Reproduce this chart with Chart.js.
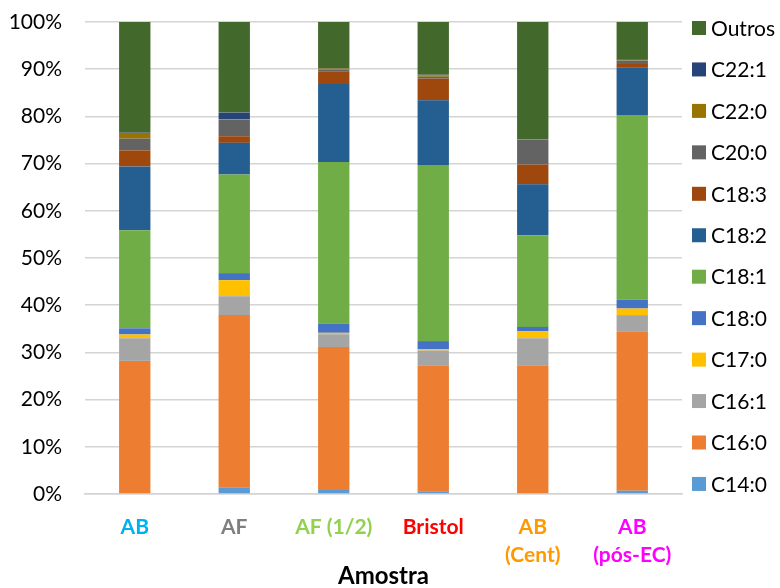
<!DOCTYPE html>
<html>
<head>
<meta charset="utf-8">
<script src="https://cdn.jsdelivr.net/npm/chart.js@4/dist/chart.umd.min.js"></script>
<style>
  html, body { margin: 0; padding: 0; background: #fff; }
  #wrap { width: 780px; height: 588px; position: relative; }
</style>
</head>
<body>
<div id="wrap"><canvas id="c" width="780" height="588"></canvas></div>
<script>
// Samples (x axis) and their label colours
const categories = ["AB", "AF", "AF (1/2)", "Bristol", ["AB", "(Cent)"], ["AB", "(pós-EC)"]];
const categoryColors = ["#00B0F0", "#7F7F7F", "#92D050", "#FF0000", "#FF9900", "#FF00FF"];

// Fatty acid composition, % of total
const c14_0 = [0.2, 1.4, 0.85, 0.5, 0.0, 0.7];
const c16_0 = [28.0, 36.5, 30.3, 26.8, 27.3, 33.8];
const c16_1 = [4.8, 4.0, 2.7, 3.1, 5.7, 3.4];
const c17_0 = [0.8, 3.4, 0.3, 0.3, 1.5, 1.4];
const c18_0 = [1.3, 1.5, 2.0, 1.7, 0.9, 1.9];
const c18_1 = [20.8, 20.9, 34.2, 37.3, 19.4, 39.1];
const c18_2 = [13.5, 6.7, 16.5, 13.7, 10.8, 10.0];
const c18_3 = [3.4, 1.4, 2.6, 4.6, 4.2, 1.0];
const c20_0 = [2.5, 3.5, 0.5, 0.4, 5.2, 0.5];
const c22_0 = [1.2, 0.1, 0.2, 0.3, 0.1, 0.1];
const c22_1 = [0.1, 1.4, 0.1, 0.1, 0.0, 0.2];
const outros = [23.4, 19.2, 9.8, 11.2, 24.9, 7.9];

const yTicks = [0, 10, 20, 30, 40, 50, 60, 70, 80, 90, 100];

const series = [
  { label: "C14:0", data: c14_0, color: "#5B9BD5" },
  { label: "C16:0", data: c16_0, color: "#ED7D31" },
  { label: "C16:1", data: c16_1, color: "#A5A5A5" },
  { label: "C17:0", data: c17_0, color: "#FFC000" },
  { label: "C18:0", data: c18_0, color: "#4472C4" },
  { label: "C18:1", data: c18_1, color: "#70AD47" },
  { label: "C18:2", data: c18_2, color: "#255E91" },
  { label: "C18:3", data: c18_3, color: "#9E480E" },
  { label: "C20:0", data: c20_0, color: "#636363" },
  { label: "C22:0", data: c22_0, color: "#997300" },
  { label: "C22:1", data: c22_1, color: "#264478" },
  { label: "Outros", data: outros, color: "#43682B" }
];

const FONT = "Lato, 'Open Sans', sans-serif";

// Legend on the right, listed from the top of the stack down
const sideLegend = {
  id: "sideLegend",
  afterDraw(chart) {
    const ctx = chart.ctx;
    const ds = chart.data.datasets;
    ctx.save();
    ctx.font = "21px " + FONT;
    ctx.textBaseline = "middle";
    const x0 = 692, y0 = 28, step = 41.45, box = 14;
    for (let i = 0; i < ds.length; i++) {
      const d = ds[ds.length - 1 - i];
      const y = y0 + i * step;
      ctx.fillStyle = d.backgroundColor;
      ctx.fillRect(x0, y - box / 2, box, box);
      ctx.fillStyle = "#000";
      ctx.fillText(d.label, x0 + 19, y + 1);
    }
    ctx.restore();
  }
};

new Chart(document.getElementById("c"), {
  type: "bar",
  data: {
    labels: categories,
    datasets: series.map(s => ({
      label: s.label,
      data: s.data,
      backgroundColor: s.color,
      borderWidth: 0,
      categoryPercentage: 1.0,
      barPercentage: 0.315
    }))
  },
  options: {
    responsive: false,
    animation: false,
    layout: { padding: { left: 8, right: 98, top: 22, bottom: 0 } },
    plugins: {
      legend: { display: false },
      tooltip: { enabled: false }
    },
    scales: {
      x: {
        stacked: true,
        afterFit: axis => { axis.height = 94; axis.paddingLeft = 0; axis.paddingRight = 0; },
        grid: { display: false, drawTicks: false },
        border: { display: true, color: "#d4d4d4", width: 1.5 },
        ticks: {
          padding: 19,
          maxRotation: 0,
          font: { family: FONT, size: 21, weight: "bold", lineHeight: 1.33 },
          color: ctx => categoryColors[ctx.index]
        },
        title: {
          display: true,
          text: "Amostra",
          color: "#000",
          font: { family: FONT, size: 24, weight: "bold" },
          padding: { top: 0, bottom: -3 }
        }
      },
      y: {
        stacked: true,
        min: 0,
        max: 100,
        afterFit: axis => { axis.width = 77; axis.paddingTop = 0; axis.paddingBottom = 0; },
        afterBuildTicks: axis => { axis.ticks = yTicks.map(v => ({ value: v })); },
        grid: { color: "#d4d4d4", lineWidth: 1.5, drawTicks: false },
        border: { display: false },
        ticks: {
          padding: 23,
          color: "#000",
          font: { family: FONT, size: 21 },
          callback: v => v + "%"
        }
      }
    }
  },
  plugins: [sideLegend]
});
</script>
</body>
</html>
